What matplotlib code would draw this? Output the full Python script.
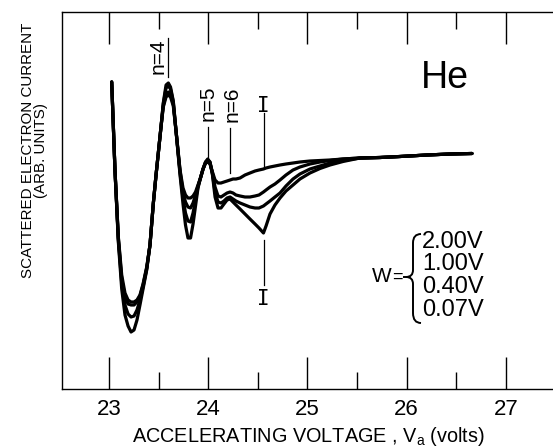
import matplotlib.pyplot as plt
from matplotlib.path import Path
from matplotlib.patches import PathPatch
from matplotlib.ticker import MultipleLocator

plt.rcParams['font.family'] = ['Liberation Sans', 'DejaVu Sans']
plt.rcParams['mathtext.default'] = 'regular'

# accelerating voltage (volts)
volts = [23.027, 23.060, 23.094, 23.128, 23.161, 23.192, 23.222, 23.252, 23.282, 23.312,
         23.343, 23.380, 23.413, 23.447, 23.474, 23.497, 23.524, 23.547, 23.575, 23.598,
         23.620, 23.648, 23.682, 23.716, 23.746, 23.771, 23.796, 23.822, 23.847, 23.872,
         23.897, 23.922, 23.948, 23.973, 23.995, 24.018, 24.043, 24.069, 24.099, 24.129,
         24.159, 24.190, 24.220, 24.250, 24.280, 24.321, 24.371, 24.421, 24.472, 24.512,
         24.557, 24.583, 24.623, 24.673, 24.724, 24.784, 24.855, 24.925, 25.026, 25.127,
         25.228, 25.359, 25.530, 25.732, 25.933, 26.206, 26.438, 26.659]

# scattered electron current (arb. units), one list per W
cur_200 = [307, 219, 152, 114, 96, 89, 87, 87, 89, 94,
           105, 122, 144, 186, 214, 236, 262, 282, 292, 294,
           292, 283, 252, 219, 201, 194, 191, 191, 193, 197,
           204, 211, 220, 226, 227, 225, 217, 209, 206, 206,
           207, 208, 209, 210, 210, 211, 214, 216, 218, 219,
           220, 221, 222, 223, 224, 225, 226, 227, 228, 228.5,
           229, 230, 231, 231.5, 232.5, 234, 235, 235.5]
cur_100 = [307, 219, 151, 110, 92, 85, 84, 84, 87, 93,
           104, 121, 144, 186, 214, 236, 262, 283, 295, 297,
           295, 285, 252, 218, 197, 187, 182, 181, 186, 194,
           203, 211, 220, 226, 228, 226, 216, 202, 193, 192,
           194, 196, 197, 196, 194, 193, 192, 192, 193, 194,
           197, 199, 202, 205, 209, 214, 219, 222, 225, 227,
           228.5, 230, 231, 231.5, 232.5, 234, 235, 235.5]
cur_040 = [307, 219, 149, 106, 84, 75, 72, 73, 79, 89,
           102, 120, 144, 186, 214, 236, 262, 285, 301, 303,
           300, 287, 251, 216, 191, 176, 168, 167, 176, 189,
           202, 211, 220, 227, 229, 227, 215, 197, 187, 186,
           188, 191, 192, 190, 188, 186, 184, 182, 181, 181,
           183, 185, 188, 192, 196, 203, 210, 215, 220, 223,
           226, 228.5, 231, 231.5, 232.5, 234, 235, 235.5]
cur_007 = [307, 219, 147, 100, 74, 63, 57, 59, 69, 84,
           100, 119, 144, 186, 214, 236, 262, 286, 304, 306,
           302, 288, 251, 214, 185, 164, 151, 151, 165, 183,
           201, 211, 220, 227, 230, 227, 214, 192, 181, 181,
           185, 189, 190, 187, 184, 180, 175, 170, 165, 161,
           156, 163, 175, 184, 191, 198, 204, 210, 216, 220.5,
           224, 227.5, 231, 231.5, 232.5, 234, 235, 235.5]

widths = ['2.00V', '1.00V', '0.40V', '0.07V']
levels = ['n=4', 'n=5', 'n=6']
level_v = [23.59, 24.0, 24.22]
ion_v = 24.56

fig = plt.figure(figsize=(5.53, 4.47), dpi=100)
ax = fig.add_axes([62 / 553, 58 / 447, 491 / 553, 377 / 447])

for cur in (cur_200, cur_100, cur_040, cur_007):
    ax.plot(volts, cur, color='black', lw=2.3, solid_joinstyle='round',
            solid_capstyle='round')

ax.set_xlim(22.526, 27.476)
ax.set_ylim(0, 377)
ax.xaxis.set_major_locator(MultipleLocator(1))
ax.xaxis.set_minor_locator(MultipleLocator(0.5))
ax.tick_params(axis='x', which='major', direction='in', top=True, length=23,
               width=1.0, labelsize=16, pad=7)
ax.tick_params(axis='x', which='minor', direction='in', top=True, length=12, width=1.0)
ax.set_yticks([])
ax.spines['right'].set_visible(False)
for s in ('left', 'top', 'bottom'):
    ax.spines[s].set_linewidth(1.0)

fig.text(308 / 553, 0.012, 'ACCELERATING VOLTAGE , V$_a$ (volts)', ha='center',
         va='baseline', fontsize=14.3)
fig.text(34.5 / 553, 1 - 150 / 447, 'SCATTERED ELECTRON CURRENT\n(ARB. UNITS)',
         rotation=90, ha='center', va='center', multialignment='center',
         fontsize=10.9, linespacing=0.95)


def axpt(px, py):
    # pixel position in the picture -> axes fraction
    return (px - 62) / 491, (389 - py) / 377


# level labels with their leader lines
lab_y = [0.882, 0.759, 0.756]
lab_dx = [-0.094, 0.0, 0.017]
line_y = [(0.828, 0.931), (0.613, 0.695), (0.573, 0.692)]
for name, v, ly, dx, (y0, y1) in zip(levels, level_v, lab_y, lab_dx, line_y):
    ax.axvline(v, y0, y1, color='black', lw=0.9)
    ax.text(v + dx, ly, name, rotation=90, ha='center', va='center', fontsize=15,
            transform=ax.get_xaxis_transform())

# ionization threshold markers
ax.axvline(ion_v, 0.586, 0.732, color='black', lw=0.9)
ax.axvline(ion_v, 0.276, 0.395, color='black', lw=0.9)
for yy in (0.750, 0.240):
    ax.text(ion_v, yy, 'I', ha='center', va='center', fontsize=15,
            family='DejaVu Sans Mono', transform=ax.get_xaxis_transform())

ax.text(*axpt(445, 78), 'He', ha='center', va='center', fontsize=27,
        transform=ax.transAxes)

# W legend with brace
ax.text(*axpt(382, 277), 'W', ha='center', va='center', fontsize=15,
        transform=ax.transAxes)
ax.text(*axpt(397, 277), '=', ha='center', va='center', fontsize=13,
        transform=ax.transAxes)
for i, w in enumerate(widths):
    ax.text(*axpt(422, 242 + 22.5 * i), w, ha='left', va='center', fontsize=17,
            transform=ax.transAxes)

brace_px = [(421, 234), (413, 234), (413, 243), (413, 270), (413, 277), (406, 277),
            (413, 277), (413, 284), (413, 313), (413, 323), (421, 323)]
codes = [Path.MOVETO, Path.CURVE3, Path.CURVE3, Path.LINETO, Path.CURVE3, Path.CURVE3,
         Path.CURVE3, Path.CURVE3, Path.LINETO, Path.CURVE3, Path.CURVE3]
brace = Path([axpt(*p) for p in brace_px], codes)
ax.add_patch(PathPatch(brace, transform=ax.transAxes, fill=False, lw=1.4,
                       edgecolor='black', clip_on=False))
ax.plot(*zip(axpt(404, 277), axpt(409, 277)), color='black', lw=1.4,
        transform=ax.transAxes)

fig.savefig('out.png', dpi=100)
